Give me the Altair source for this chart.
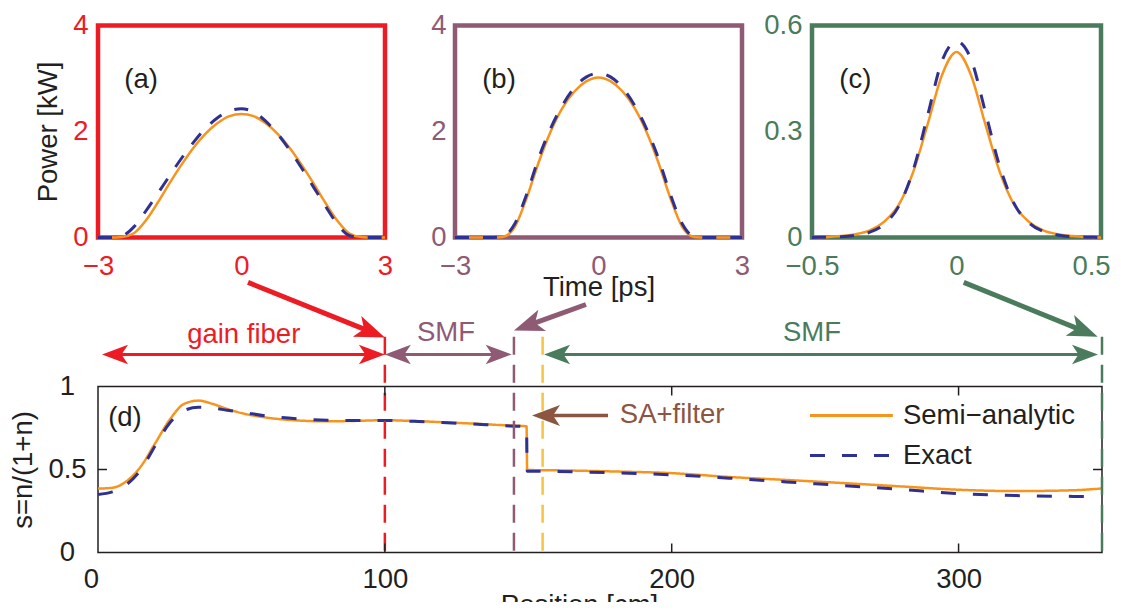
import math
import altair as alt
import pandas as pd

FONT = "Liberation Sans"
FS = 27.5
INK = "#231F20"
RED = "#ED1C24"
PURPLE = "#8E5A74"
GREEN = "#4A7B5C"
ORANGE = "#F7941D"
NAVY = "#2E3192"
YELLOW = "#F6C343"
BROWN = "#8C5541"
SEMI = "Semi\u2212analytic"
EXACT = "Exact"

# ---------------- data: panels (a), (b) ----------------
T_AB = [-3, -2.75, -2.5, -2.25, -2, -1.75, -1.5, -1.25, -1, -0.75, -0.5, -0.25, 0,
        0.25, 0.5, 0.75, 1, 1.25, 1.5, 1.75, 2, 2.25, 2.5, 2.75, 3]
SEMI_A = [0, 0, 0.01, 0.08, 0.32, 0.66, 1.03, 1.38, 1.70, 1.96, 2.16, 2.29, 2.33,
          2.29, 2.16, 1.96, 1.70, 1.38, 1.03, 0.66, 0.32, 0.08, 0.01, 0, 0]
EXACT_A = [0, 0, 0.03, 0.20, 0.50, 0.83, 1.17, 1.50, 1.80, 2.06, 2.26, 2.39, 2.43,
           2.37, 2.20, 1.96, 1.66, 1.32, 0.96, 0.60, 0.26, 0.04, 0, 0, 0]
SEMI_B = [0, 0, 0, 0, 0.01, 0.20, 0.75, 1.42, 2.00, 2.45, 2.76, 2.95, 3.02,
          2.95, 2.76, 2.45, 2.00, 1.42, 0.75, 0.20, 0.01, 0, 0, 0, 0]
EXACT_B = [0, 0, 0, 0, 0.02, 0.26, 0.82, 1.50, 2.06, 2.50, 2.83, 3.03, 3.10,
           3.03, 2.83, 2.50, 2.06, 1.50, 0.82, 0.26, 0.02, 0, 0, 0, 0]

# ---------------- data: panel (c) ----------------
T_C = [-0.5, -0.45, -0.4, -0.35, -0.3, -0.25, -0.2, -0.15, -0.1, -0.05, 0,
       0.05, 0.1, 0.15, 0.2, 0.25, 0.3, 0.35, 0.4, 0.45, 0.5]
SEMI_C = [0, 0.001, 0.004, 0.009, 0.02, 0.045, 0.092, 0.185, 0.32, 0.46, 0.525,
          0.46, 0.32, 0.185, 0.092, 0.045, 0.02, 0.009, 0.004, 0.001, 0]
EXACT_C = [0, 0.001, 0.002, 0.006, 0.015, 0.038, 0.088, 0.19, 0.345, 0.5, 0.555,
           0.505, 0.355, 0.2, 0.095, 0.042, 0.017, 0.007, 0.002, 0.001, 0]

# ---------------- data: panel (d) ----------------
POS_SEMI = [0, 5, 10, 15, 20, 25, 30, 35, 40, 45, 50, 60, 70, 80, 90, 100, 110, 120, 130,
            140, 149.4, 149.6, 160, 180, 200, 220, 240, 260, 280, 300, 320, 340, 350]
SEMI_D = [0.385, 0.39, 0.43, 0.52, 0.66, 0.80, 0.895, 0.915, 0.895, 0.865, 0.84, 0.81,
          0.795, 0.79, 0.793, 0.797, 0.792, 0.785, 0.777, 0.768, 0.760, 0.497, 0.495,
          0.488, 0.478, 0.455, 0.437, 0.418, 0.398, 0.378, 0.370, 0.375, 0.386]
POS_EXACT = [0, 5, 10, 15, 20, 25, 30, 35, 40, 45, 50, 60, 70, 80, 90, 100, 110, 120, 130,
             140, 149.4, 149.6, 160, 180, 200, 220, 240, 260, 280, 300, 320, 340, 345]
EXACT_D = [0.35, 0.365, 0.41, 0.50, 0.645, 0.78, 0.855, 0.875, 0.87, 0.857, 0.845, 0.82,
           0.805, 0.797, 0.795, 0.795, 0.79, 0.783, 0.775, 0.765, 0.757, 0.49, 0.488,
           0.48, 0.468, 0.448, 0.425, 0.403, 0.38, 0.355, 0.343, 0.338, 0.337]

# section boundaries (position, colour) and annotation data
MARK_POS = [100, 145, 155, 350]
MARK_TOP = [1.3, 1.3, 1.3, 1.3]
MARK_COLOR = [RED, PURPLE, YELLOW, GREEN]

ARROW_X0 = [1.4, 100, 155.5, 52.3, 170.1, 301.8, 177.8]
ARROW_Y0 = [1.193, 1.193, 1.193, 1.627, 1.494, 1.627, 0.825]
ARROW_X1 = [100, 144.2, 348.6, 100, 145.0, 348.5, 151.3]
ARROW_Y1 = [1.193, 1.193, 1.193, 1.295, 1.337, 1.300, 0.825]
ARROW_COLOR = [RED, PURPLE, GREEN, RED, PURPLE, GREEN, BROWN]
ARROW_BOTH = [True, True, True, False, False, False, False]
ARROW_W = [3, 3, 3, 5, 5, 5, 3.5]
ARROW_HEAD = [26, 26, 26, 30, 30, 30, 28]

LABELS_C = ["(d)", "gain fiber", "SMF", "SMF"]
LABELS_C_X = [9.4, 50.8, 121.3, 248.9]
LABELS_C_Y = [0.813, 1.313, 1.32, 1.32]
LABELS_C_COLOR = [INK, RED, PURPLE, GREEN]
LABELS_L = ["SA+filter"]
LABELS_L_X = [181.9]
LABELS_L_Y = [0.83]
LABELS_L_COLOR = [BROWN]

# legend of panel (d): one row per series
LEGEND_SERIES = [SEMI, EXACT]
LEGEND_Y = [0.825, 0.584]
LEGEND_X0 = 248.2
LEGEND_X1 = 277.1
LEGEND_TX = 280.6

TOP_H = 212
D_W, D_H = 1004, 166


def axis(**kw):
    base = dict(domain=False, ticks=False, tickSize=0, grid=False, format="~f",
                labelFont=FONT, labelFontSize=FS, labelFlush=False, labelOverlap=False,
                titleFont=FONT, titleFontSize=FS, titleFontWeight="normal", titleColor=INK)
    base.update(kw)
    return alt.Axis(**base)


def top_panel(t, semi, exact, xdom, ydom, xvals, yvals, color, tag, tag_t, tag_p, width,
              xtitle=None, ytitle=None, ylabpad=10, last_label_shift=0):
    df = pd.DataFrame({"t": t, "semi": semi, "exact": exact})
    xs = alt.Scale(domain=xdom, nice=False, zero=False)
    ys = alt.Scale(domain=ydom, nice=False, zero=False)
    xkw = dict(values=xvals, labelColor=color, labelPadding=15, title=xtitle)
    if last_label_shift:
        xkw["labelOffset"] = {"condition": {"test": f"datum.value >= {xvals[-1]}",
                                            "value": last_label_shift}, "value": 0}
    if xtitle:
        xkw.update(titleX=width / 2, titleY=36)
    ykw = dict(values=yvals, labelColor=color, labelPadding=ylabpad, title=ytitle)
    if ytitle:
        ykw.update(titleX=-36, titleY=TOP_H / 2)
    xa = axis(**xkw)
    ya = axis(**ykw)
    semi_line = alt.Chart(df).mark_line(color=ORANGE, strokeWidth=2.5, interpolate="monotone").encode(
        x=alt.X("t:Q", scale=xs, axis=xa),
        y=alt.Y("semi:Q", scale=ys, axis=ya),
    )
    exact_line = alt.Chart(df).mark_line(color=NAVY, strokeWidth=3, strokeDash=[14, 14],
                                         interpolate="monotone").encode(
        x=alt.X("t:Q", scale=xs, axis=xa),
        y=alt.Y("exact:Q", scale=ys, axis=ya),
    )
    tag_df = pd.DataFrame({"t": [tag_t], "semi": [tag_p], "label": [tag]})
    tag_layer = alt.Chart(tag_df).mark_text(font=FONT, fontSize=FS, color=INK, align="center",
                                            baseline="middle").encode(
        x=alt.X("t:Q", scale=xs, axis=xa),
        y=alt.Y("semi:Q", scale=ys, axis=ya),
        text="label:N",
    )
    return alt.layer(semi_line, exact_line, tag_layer).properties(
        width=width, height=TOP_H, view=alt.ViewBackground(stroke=color, strokeWidth=4.5))


pa = top_panel(T_AB, SEMI_A, EXACT_A, [-3, 3], [0, 4], [-3, 0, 3], [0, 2, 4], RED,
               "(a)", -2.10, 2.98, 287, ytitle="Power [kW]")
pb = top_panel(T_AB, SEMI_B, EXACT_B, [-3, 3], [0, 4], [-3, 0, 3], [0, 2, 4], PURPLE,
               "(b)", -2.08, 2.98, 287, xtitle="Time [ps]", ylabpad=9)
pc = top_panel(T_C, SEMI_C, EXACT_C, [-0.5, 0.5], [0, 0.6], [-0.5, 0, 0.5], [0, 0.3, 0.6], GREEN,
               "(c)", -0.35, 0.447, 289, last_label_shift=-10)

# ---------------- panel (d) ----------------
xs_d = alt.Scale(domain=[0, 350], nice=False, zero=False)
ys_d = alt.Scale(domain=[0, 1], nice=False, zero=False)
XA_D = axis(values=[0, 100, 200, 300], labelColor=INK, labelPadding=13, title="Position [cm]",
            titleX=481, titleY=39,
            labelOffset={"condition": {"test": "datum.value == 0", "value": -7}, "value": 0})
YA_D = axis(values=[0, 0.5, 1], labelColor=INK, labelAlign="center", labelPadding=31,
            title="s=n/(1+n)", titleX=-61, titleY=D_H / 2)
col_scale = alt.Scale(domain=[SEMI, EXACT], range=[ORANGE, NAVY])
dash_scale = alt.Scale(domain=[SEMI, EXACT], range=[[1, 0], [15, 17]])


def X(field):
    return alt.X(field, type="quantitative", scale=xs_d, axis=XA_D)


def Y(field):
    return alt.Y(field, type="quantitative", scale=ys_d, axis=YA_D)


semi_df = pd.DataFrame({"pos": POS_SEMI, "s": SEMI_D, "series": SEMI})
exact_df = pd.DataFrame({"pos": POS_EXACT, "s": EXACT_D, "series": EXACT})


def dline(df, sw):
    return alt.Chart(df).mark_line(strokeWidth=sw, interpolate="monotone").encode(
        x=X("pos"), y=Y("s"),
        color=alt.Color("series:N", scale=col_scale, legend=None),
        strokeDash=alt.StrokeDash("series:N", scale=dash_scale, legend=None),
    )


d_semi = dline(semi_df, 2.5)
d_exact = dline(exact_df, 3)

# legend rows drawn with the same colour / dash scales as the curves
leg_df = pd.DataFrame({"series": LEGEND_SERIES, "s": LEGEND_Y,
                       "x0": [LEGEND_X0] * 2, "x1": [LEGEND_X1] * 2, "tx": [LEGEND_TX] * 2})
leg_lines = alt.Chart(leg_df).mark_rule(strokeWidth=3).encode(
    x=X("x0"), x2="x1:Q", y=Y("s"),
    color=alt.Color("series:N", scale=col_scale, legend=None),
    strokeDash=alt.StrokeDash("series:N", scale=dash_scale, legend=None),
)
leg_text = alt.Chart(leg_df).mark_text(font=FONT, fontSize=FS, color=INK, align="left",
                                       baseline="middle").encode(
    x=X("tx"), y=Y("s"), text="series:N")

mk_df = pd.DataFrame({"pos": MARK_POS, "s": MARK_TOP, "bot": [0] * len(MARK_POS), "c": MARK_COLOR})
markers = alt.Chart(mk_df).mark_rule(strokeWidth=2.5, strokeDash=[18, 10]).encode(
    x=X("pos"), y=Y("s"), y2="bot:Q",
    stroke=alt.Stroke("c:N", scale=None),
)

TICK_X = [100, 200, 300]
tick_df = pd.DataFrame({"pos": TICK_X, "bottom": [0] * 3, "top": [1] * 3})
ticks_b = alt.Chart(tick_df).mark_tick(orient="vertical", size=9, thickness=1.5, color=INK,
                                       yOffset=-4.5, opacity=1).encode(x=X("pos"), y=Y("bottom"))
ticks_t = alt.Chart(tick_df).mark_tick(orient="vertical", size=9, thickness=1.5, color=INK,
                                       yOffset=4.5, opacity=1).encode(x=X("pos"), y=Y("top"))
ytick_df = pd.DataFrame({"left": [0], "right": [350], "val": [0.5]})
ticks_l = alt.Chart(ytick_df).mark_tick(orient="horizontal", size=9, thickness=1.5, color=INK,
                                        xOffset=4.5, opacity=1).encode(x=X("left"), y=Y("val"))
ticks_r = alt.Chart(ytick_df).mark_tick(orient="horizontal", size=9, thickness=1.5, color=INK,
                                        xOffset=-4.5, opacity=1).encode(x=X("right"), y=Y("val"))

# arrows: geometry derived from the annotation data through the panel's pixel scale
PXX = D_W / 350.0
PXY = D_H / 1.0
shafts, heads = [], []
for x0, y0, x1, y1, c, both, w, hl in zip(ARROW_X0, ARROW_Y0, ARROW_X1, ARROW_Y1, ARROW_COLOR,
                                          ARROW_BOTH, ARROW_W, ARROW_HEAD):
    dxp = (x1 - x0) * PXX
    dyp = -(y1 - y0) * PXY
    L = math.hypot(dxp, dyp)
    ang = math.degrees(math.atan2(dyp, dxp)) % 360
    k = 0.7 * hl / L
    ex, ey = x1 - (x1 - x0) * k, y1 - (y1 - y0) * k
    sx, sy = (x0 + (x1 - x0) * k, y0 + (y1 - y0) * k) if both else (x0, y0)
    shafts.append({"x": sx, "y": sy, "x2": ex, "y2": ey, "c": c, "w": w})
    heads.append({"x": x1, "y": y1, "ang": ang, "c": c, "sz": hl * hl})
    if both:
        heads.append({"x": x0, "y": y0, "ang": (ang + 180) % 360, "c": c, "sz": hl * hl})

shaft_layer = alt.Chart(pd.DataFrame(shafts)).mark_rule(strokeCap="butt").encode(
    x=X("x"), y=Y("y"), x2="x2:Q", y2="y2:Q",
    stroke=alt.Stroke("c:N", scale=None),
    strokeWidth=alt.StrokeWidth("w:Q", scale=None),
)
HEAD_PATH = "M0,0L-2,-0.75L-1.5,0L-2,0.75Z"
head_layer = alt.Chart(pd.DataFrame(heads)).mark_point(shape=HEAD_PATH, filled=True, opacity=1,
                                                       strokeWidth=0).encode(
    x=X("x"), y=Y("y"),
    angle=alt.Angle("ang:Q", scale=None),
    size=alt.Size("sz:Q", scale=None),
    fill=alt.Fill("c:N", scale=None),
)

txt_c = alt.Chart(pd.DataFrame({"x": LABELS_C_X, "y": LABELS_C_Y, "t": LABELS_C, "c": LABELS_C_COLOR})
                  ).mark_text(font=FONT, fontSize=FS, align="center", baseline="middle").encode(
    x=X("x"), y=Y("y"), text="t:N", fill=alt.Fill("c:N", scale=None))
txt_l = alt.Chart(pd.DataFrame({"x": LABELS_L_X, "y": LABELS_L_Y, "t": LABELS_L, "c": LABELS_L_COLOR})
                  ).mark_text(font=FONT, fontSize=FS, align="left", baseline="middle").encode(
    x=X("x"), y=Y("y"), text="t:N", fill=alt.Fill("c:N", scale=None))

pd_chart = alt.layer(d_semi, d_exact, markers, ticks_b, ticks_t, ticks_l, ticks_r,
                     shaft_layer, head_layer, txt_c, txt_l, leg_lines, leg_text).properties(
    width=D_W, height=D_H, view=alt.ViewBackground(stroke=INK, strokeWidth=1.5))

top_row = alt.hconcat(pa, pb, pc, spacing=70, bounds="flush")
chart = alt.vconcat(top_row, pd_chart, spacing=361, bounds="flush").properties(
    padding={"left": 0, "top": 0.5, "right": -3, "bottom": -19}
).configure_view(stroke=None).configure(font=FONT)

chart.save("out.html", embed_options={"renderer": "svg", "actions": False})
